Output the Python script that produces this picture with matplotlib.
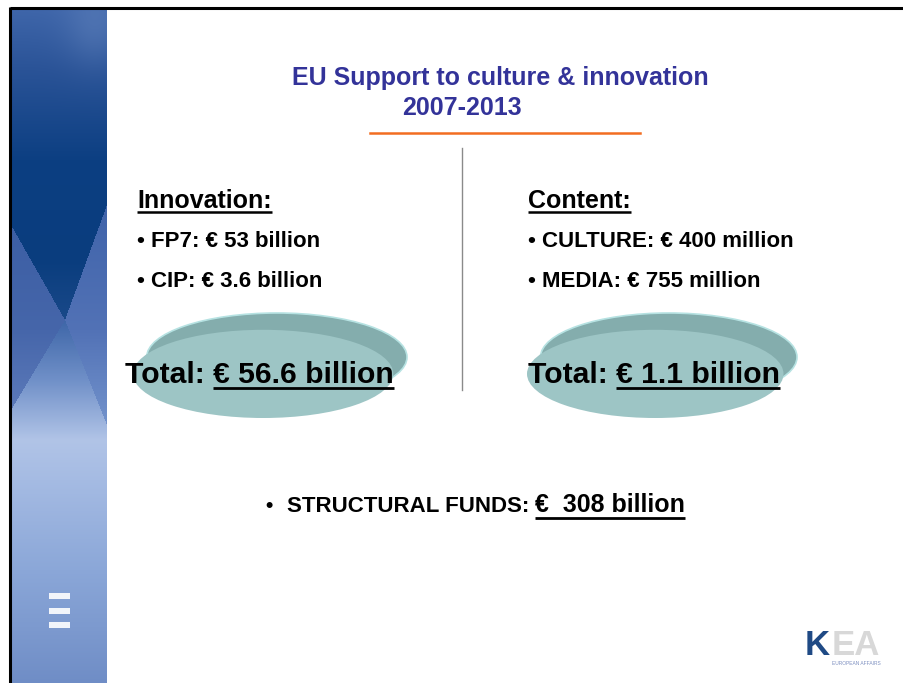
import numpy as np
import matplotlib
matplotlib.use("Agg")
import matplotlib.pyplot as plt
from matplotlib.patches import Ellipse, Rectangle

# ---- content ----
title_line1 = "EU Support to culture & innovation"
title_line2 = "2007-2013"
left_head = "Innovation:"
left_items = ["• FP7: € 53 billion", "• CIP: € 3.6 billion"]
left_total_label = "Total: "
left_total_value = "€ 56.6 billion"
right_head = "Content:"
right_items = ["• CULTURE: € 400 million", "• MEDIA: € 755 million"]
right_total_label = "Total: "
right_total_value = "€ 1.1 billion"
bottom_label = "STRUCTURAL FUNDS:"
bottom_value = "€  308 billion"

W, H = 904, 683
fig = plt.figure(figsize=(W / 100, H / 100), dpi=100)
ax = fig.add_axes([0, 0, 1, 1])
ax.set_xlim(0, W)
ax.set_ylim(H, 0)
ax.axis("off")
FONT = "Liberation Sans"

# ---- left decorative panel ----
def hx(c):
    c = c.lstrip("#")
    return np.array([int(c[i:i + 2], 16) for i in (0, 2, 4)]) / 255.0

def vprof(y, stops):
    ys = [s[0] for s in stops]
    cols = np.array([hx(s[1]) for s in stops])
    return np.stack([np.interp(y, ys, cols[:, k]) for k in range(3)], axis=-1)

px0, px1, py0, py1 = 11, 107, 9, 683
xs = np.arange(px0, px1) + 0.5
ys = np.arange(py0, py1) + 0.5
X, Y = np.meshgrid(xs, ys)
cx, cy = 65, 320
topL = 225 + (X - 11) * (cy - 225) / (cx - 11)
topR = cy + (X - cx) * (205 - cy) / (107 - cx)
top_b = np.where(X < cx, topL, topR)
botL = cy + (cx - X) * (410 - cy) / (cx - 11)
botR = cy + (X - cx) * (425 - cy) / (107 - cx)
bot_b = np.where(X < cx, botL, botR)

dark = vprof(Y, [(9, "#3f66aa"), (70, "#2a5397"), (160, "#0c3f82"), (260, "#0a3d7e"), (330, "#1c4b8b")])
light = vprof(Y, [(320, "#3e66a8"), (380, "#7090c8"), (440, "#b1c4e7"), (480, "#a5bbe3"), (570, "#8ba7d8"), (683, "#6f8dc6")])
sideL = vprof(Y, [(220, "#3b5ea4"), (330, "#4666aa"), (410, "#5c7aba")])
sideR = vprof(Y, [(200, "#3f63a9"), (330, "#5272b6"), (425, "#7393cc")])
side = np.where((X < cx)[..., None], sideL, sideR)
img = np.where((Y < top_b)[..., None], dark, np.where((Y > bot_b)[..., None], light, side))
spot = np.exp(-(((X - 95) / 30) ** 2 + ((Y - 25) / 40) ** 2))[..., None]
img = img * (1 - 0.35 * spot) + hx("#6f8fc5") * 0.35 * spot
ax.imshow(img, extent=(px0, px1, py1, py0), aspect="auto", interpolation="bilinear", zorder=1)

# border lines
ax.plot([10, W], [8, 8], color="black", lw=2.2, solid_capstyle="butt", zorder=3)
ax.plot([10, 10], [7, H], color="black", lw=2.2, solid_capstyle="butt", zorder=3)

# white bars
for yb in (596, 611, 625):
    ax.add_patch(Rectangle((49, yb - 3), 21, 6, color="white", alpha=0.9, lw=0, zorder=2))

# ---- title ----
navy = "#333399"
ax.text(500, 85, title_line1, fontsize=18, fontweight="bold", color=navy, family=FONT,
        ha="center", va="baseline", zorder=5)
ax.text(462, 115, title_line2, fontsize=18, fontweight="bold", color=navy, family=FONT,
        ha="center", va="baseline", zorder=5)
ax.plot([370, 640], [133, 133], color="#f26d21", lw=1.8, zorder=4)
ax.plot([462, 462], [148, 390], color="#8a8a8a", lw=1.0, zorder=4)

# ---- ellipses ----
def disc(x0, x1, y0, y1):
    w = (x1 - x0) * 0.95
    h = (y1 - y0) * 0.84
    rim = Ellipse((x1 - w / 2, y0 + h / 2), w, h, facecolor="#84adad", edgecolor="#b6e2e2", lw=1.2, zorder=2)
    face = Ellipse((x0 + w / 2, y1 - h / 2), w, h, facecolor="#9dc5c5", edgecolor="none", zorder=3)
    ax.add_patch(rim)
    ax.add_patch(face)

disc(133, 407, 313, 418)
disc(527, 797, 313, 418)

fig.canvas.draw()
renderer = fig.canvas.get_renderer()
inv = ax.transData.inverted()

def ext(t):
    bb = t.get_window_extent(renderer=renderer)
    (x0, y0), (x1, y1) = inv.transform([[bb.x0, bb.y0], [bb.x1, bb.y1]])
    return x0, x1, min(y0, y1), max(y0, y1)

def underline(t, y, lw):
    x0, x1, _, _ = ext(t)
    ax.plot([x0, x1], [y, y], color="black", lw=lw, solid_capstyle="butt", zorder=6)

def txt(x, y, s, size, **kw):
    return ax.text(x, y, s, fontsize=size, fontweight="bold", color=kw.pop("color", "black"), family=FONT,
                   ha="left", va="baseline", zorder=6, **kw)

# ---- headings and items ----
for x, head, items in ((137, left_head, left_items), (528, right_head, right_items)):
    t = txt(x, 208, head, 18)
    underline(t, 211.5, 1.8)
    for s, yy in zip(items, (247, 287)):
        txt(x, yy, s, 16)

# ---- totals ----
for x, lab, val in ((125, left_total_label, left_total_value), (528, right_total_label, right_total_value)):
    t = txt(x, 383, lab, 21.7)
    x1 = ext(t)[1]
    t2 = txt(x1, 383, val, 21.7)
    underline(t2, 388, 2.0)

# ---- structural funds ----
ax.text(265, 512, "•", fontsize=15, fontweight="bold", family=FONT, va="baseline", zorder=6)
t = txt(287, 512, bottom_label, 16)
x1 = ext(t)[1]
t2 = txt(x1 + 6, 512, bottom_value, 18)
underline(t2, 517.5, 2.0)

# ---- logo ----
tk = txt(805, 655, "K", 25, color="#1f4a85")
kx1 = ext(tk)[1]
te = txt(kx1 + 1, 655, "EA", 25, color="#d8d8d8")
ax.text(832, 661, "EUROPEAN AFFAIRS", fontsize=3.5, color="#7d8fc0", family=FONT, va="top", zorder=6)

fig.savefig("out.png", dpi=100)
